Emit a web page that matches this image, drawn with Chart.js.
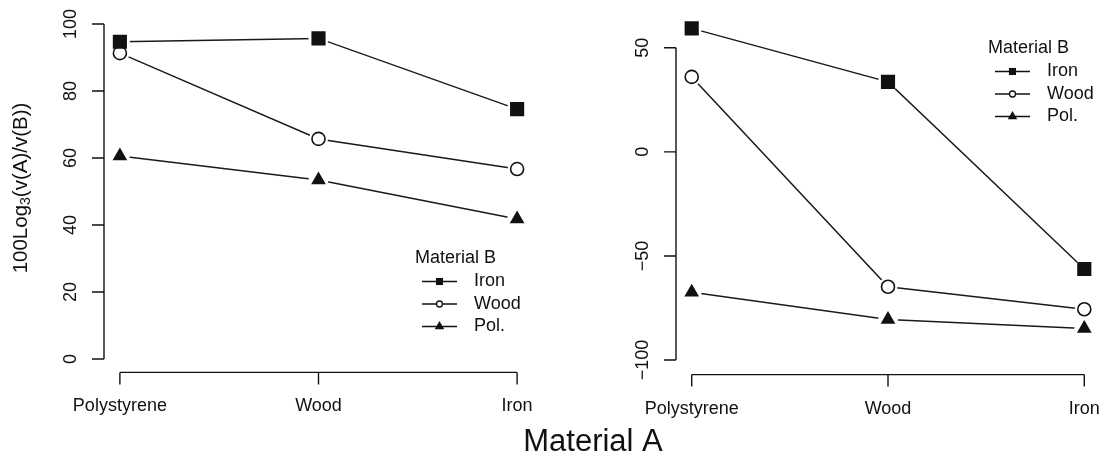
<!DOCTYPE html>
<html>
<head>
<meta charset="utf-8">
<script src="https://cdn.jsdelivr.net/npm/chart.js@4.4.1/dist/chart.umd.min.js"></script>
<style>
  html, body { margin: 0; padding: 0; background: #fff; }
  #wrap { position: relative; width: 1110px; height: 463px; overflow: hidden; }
  canvas { position: absolute; left: 0; top: 0; }
</style>
</head>
<body>
<div id="wrap">
  <canvas id="chart-left" width="1110" height="463"></canvas>
  <canvas id="chart-right" width="1110" height="463"></canvas>
</div>
<script>
/* ---- Data ---- */
var categories = ['Polystyrene', 'Wood', 'Iron'];
var seriesNames = ['Iron', 'Wood', 'Pol.'];

var leftIron = [94.7, 95.7, 74.6];
var leftWood = [91.3, 65.7, 56.7];
var leftPol = [60.6, 53.4, 41.8];
var leftTicks = [0, 20, 40, 60, 80, 100];

var rightIron = [59.3, 33.6, -56.3];
var rightWood = [36.0, -64.8, -75.6];
var rightPol = [-67.4, -80.5, -84.8];
var rightTicks = [-100, -50, 0, 50];

var FONT = '"Liberation Sans", Arial, Helvetica, sans-serif';
var INK = '#111';

/* marker looks per series: Iron = filled square, Wood = open circle, Pol. = filled triangle */
var markers = [
  { style: 'rect', radius: 10, fill: INK, border: 0, halo: 10, legendRadius: 5 },
  { style: 'circle', radius: 6.5, fill: '#fff', border: 1.6, halo: 9.5, legendRadius: 3 },
  { style: 'triangle', radius: 8.5, fill: INK, border: 0, halo: 10, legendRadius: 5.5 }
];

function toPoints(vals) {
  return categories.map(function (c, i) { return { x: i + 1, y: vals[i] }; });
}

function buildDatasets(seriesVals) {
  var sets = [];
  seriesVals.forEach(function (vals, i) {
    var m = markers[i];
    // connecting line
    sets.push({
      label: seriesNames[i], data: toPoints(vals), order: 3,
      showLine: true, borderColor: '#1a1a1a', borderWidth: 1.5, pointRadius: 0, tension: 0
    });
    // white halo -> R style gap between line and symbol
    sets.push({
      data: toPoints(vals), order: 2, showLine: false,
      pointStyle: 'circle', pointRadius: m.halo, pointBackgroundColor: '#fff', pointBorderWidth: 0
    });
    // symbol
    sets.push({
      data: toPoints(vals), order: 1, showLine: false,
      pointStyle: m.style, pointRadius: m.radius, pointBackgroundColor: m.fill,
      pointBorderColor: INK, pointBorderWidth: m.border
    });
  });
  return sets;
}

function fmt(v) { return v < 0 ? '\u2212' + Math.abs(v) : String(v); }

/* ---- R-like detached axes + legend ---- */
var rAxes = {
  id: 'rAxes',
  afterDraw: function (chart, args, opts) {
    var ctx = chart.ctx, xs = chart.scales.x, ys = chart.scales.y, area = chart.chartArea;
    ctx.save();
    ctx.strokeStyle = INK; ctx.fillStyle = INK; ctx.lineWidth = 1.4;

    // y axis
    var yt = opts.yTicks;
    ctx.beginPath();
    ctx.moveTo(area.left, ys.getPixelForValue(yt[0]));
    ctx.lineTo(area.left, ys.getPixelForValue(yt[yt.length - 1]));
    yt.forEach(function (v) {
      var p = ys.getPixelForValue(v);
      ctx.moveTo(area.left, p); ctx.lineTo(area.left - 12, p);
    });
    ctx.stroke();
    ctx.font = '18px ' + FONT;
    ctx.textAlign = 'center'; ctx.textBaseline = 'middle';
    yt.forEach(function (v) {
      ctx.save();
      ctx.translate(area.left - 33, ys.getPixelForValue(v));
      ctx.rotate(-Math.PI / 2);
      ctx.fillText(fmt(v), 0, 0);
      ctx.restore();
    });

    // x axis
    var base = area.bottom;
    ctx.beginPath();
    ctx.moveTo(xs.getPixelForValue(1), base);
    ctx.lineTo(xs.getPixelForValue(categories.length), base);
    categories.forEach(function (c, i) {
      var p = xs.getPixelForValue(i + 1);
      ctx.moveTo(p, base); ctx.lineTo(p, base + 12);
    });
    ctx.stroke();
    categories.forEach(function (c, i) {
      ctx.fillText(c, xs.getPixelForValue(i + 1), base + 34);
    });

    // legend
    var lg = opts.legend;
    ctx.textAlign = 'left';
    ctx.lineWidth = 1.3;
    ctx.fillText('Material B', lg.x, lg.y);
    seriesNames.forEach(function (name, i) {
      var ry = lg.y + 23.5 + i * 22.5, m = markers[i];
      ctx.beginPath();
      ctx.moveTo(lg.x + 7, ry); ctx.lineTo(lg.x + 42, ry);
      ctx.stroke();
      ctx.fillStyle = m.fill;
      Chart.helpers.drawPoint(ctx, { pointStyle: m.style, radius: m.legendRadius, rotation: 0, borderWidth: m.border ? 1.3 : 0 }, lg.x + 24.5, ry);
      ctx.fillStyle = INK;
      ctx.fillText(name, lg.x + 59, ry);
    });

    // axis titles (drawn once, on the left chart)
    if (opts.titles) {
      ctx.save();
      ctx.translate(21, 188);
      ctx.rotate(-Math.PI / 2);
      ctx.textAlign = 'left'; ctx.textBaseline = 'middle';
      var big = '20.5px ' + FONT, small = '14px ' + FONT;
      ctx.font = big; var w1 = ctx.measureText('100Log').width, w3 = ctx.measureText('(v(A)/v(B))').width;
      ctx.font = small; var w2 = ctx.measureText('3').width;
      var sx = -(w1 + w2 + w3) / 2;
      ctx.font = big; ctx.fillText('100Log', sx, 0);
      ctx.font = small; ctx.fillText('3', sx + w1, 5);
      ctx.font = big; ctx.fillText('(v(A)/v(B))', sx + w1 + w2, 0);
      ctx.restore();

      ctx.font = '31px ' + FONT;
      ctx.textAlign = 'center'; ctx.textBaseline = 'middle';
      ctx.fillText('Material A', 593, 442);
    }
    ctx.restore();
  }
};

function makeChart(id, seriesVals, yMin, yMax, padding, pluginOpts) {
  return new Chart(document.getElementById(id), {
    type: 'scatter',
    data: { datasets: buildDatasets(seriesVals) },
    options: {
      responsive: false,
      animation: false,
      events: [],
      layout: { padding: padding },
      plugins: { legend: { display: false }, tooltip: { enabled: false }, rAxes: pluginOpts },
      scales: {
        x: { type: 'linear', min: 0.92, max: 3.08, display: false },
        y: { type: 'linear', min: yMin, max: yMax, display: false }
      }
    },
    plugins: [rAxes]
  });
}

makeChart('chart-left', [leftIron, leftWood, leftPol], -4, 104,
  { left: 104, right: 577, top: 10.6, bottom: 90.6 },
  { yTicks: leftTicks, legend: { x: 415, y: 258 }, titles: true });

makeChart('chart-right', [rightIron, rightWood, rightPol], -107, 66.4,
  { left: 676, right: 4, top: 13.6, bottom: 88.4 },
  { yTicks: rightTicks, legend: { x: 988, y: 48 }, titles: false });
</script>
</body>
</html>
